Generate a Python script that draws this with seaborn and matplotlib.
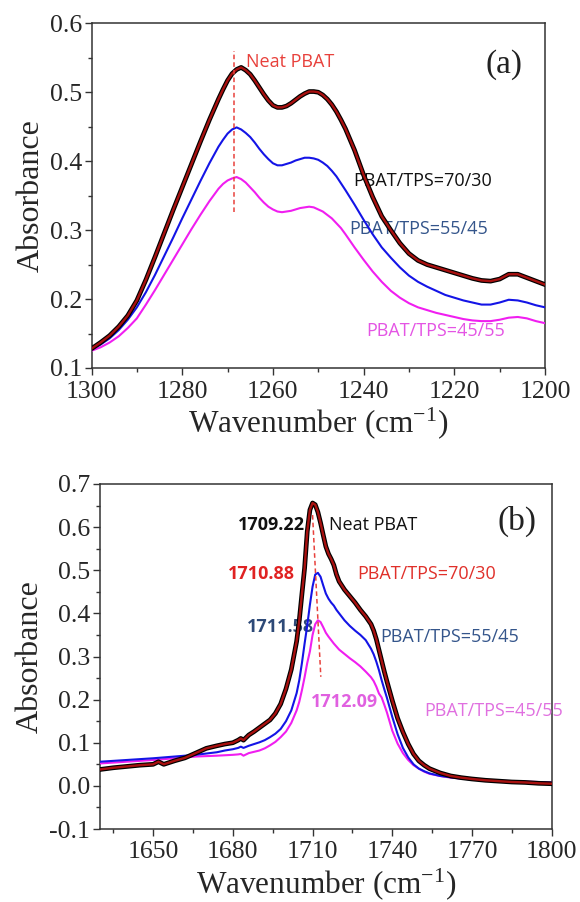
import numpy as np
import pandas as pd
import matplotlib
matplotlib.use("Agg")
import matplotlib.pyplot as plt
import matplotlib.patheffects as pe
from matplotlib.ticker import MultipleLocator, FormatStrFormatter
import seaborn as sns

# ---------------- Panel (a): 1300-1200 cm-1 region ----------------
wn_a = [1300, 1298, 1296, 1294, 1292, 1290, 1288, 1286, 1284, 1282, 1280, 1278, 1276,
        1275, 1274, 1273, 1272, 1271, 1270, 1269, 1268, 1267, 1266, 1265, 1264, 1263,
        1262, 1261, 1260, 1259, 1258, 1257, 1256, 1255, 1254, 1253, 1252, 1251, 1250,
        1249, 1248, 1247, 1246, 1245, 1244,
        1242, 1240, 1238, 1236, 1234, 1232, 1230, 1228, 1226, 1224, 1222,
        1220, 1218, 1216, 1214, 1212, 1210, 1208, 1206, 1204, 1202, 1200]
neat_a = [0.128, 0.137, 0.147, 0.160, 0.176, 0.198, 0.228, 0.261, 0.295, 0.329, 0.362, 0.395, 0.428,
          0.444, 0.460, 0.475, 0.490, 0.504, 0.517, 0.527, 0.533, 0.536, 0.532, 0.526, 0.517, 0.507,
          0.497, 0.488, 0.481, 0.478, 0.478, 0.480, 0.484, 0.489, 0.494, 0.498, 0.501, 0.501, 0.500,
          0.496, 0.490, 0.482, 0.472, 0.460, 0.447,
          0.416, 0.380, 0.348, 0.320, 0.300, 0.281, 0.266, 0.256, 0.250, 0.246, 0.242,
          0.238, 0.234, 0.230, 0.227, 0.226, 0.229, 0.236, 0.236, 0.231, 0.226, 0.221]
b7030_a = [0.127, 0.134, 0.143, 0.155, 0.170, 0.188, 0.210, 0.235, 0.262, 0.289, 0.317, 0.344, 0.371,
           0.384, 0.397, 0.409, 0.421, 0.431, 0.440, 0.446, 0.449, 0.446, 0.441, 0.435, 0.427, 0.418,
           0.410, 0.403, 0.397, 0.394, 0.394, 0.396, 0.398, 0.401, 0.403, 0.405, 0.405, 0.404, 0.402,
           0.398, 0.393, 0.386, 0.378, 0.368, 0.358,
           0.337, 0.315, 0.294, 0.275, 0.260, 0.246, 0.234, 0.225, 0.218, 0.212, 0.206,
           0.202, 0.198, 0.195, 0.192, 0.192, 0.195, 0.199, 0.198, 0.195, 0.191, 0.188]
b4555_a = [0.125, 0.130, 0.137, 0.146, 0.158, 0.172, 0.192, 0.213, 0.235, 0.257, 0.279, 0.301, 0.322,
           0.332, 0.342, 0.351, 0.360, 0.367, 0.372, 0.375, 0.377, 0.374, 0.369, 0.362, 0.355, 0.347,
           0.340, 0.334, 0.330, 0.327, 0.326, 0.327, 0.328, 0.330, 0.332, 0.333, 0.334, 0.333, 0.330,
           0.327, 0.322, 0.317, 0.310, 0.303, 0.294,
           0.275, 0.257, 0.240, 0.225, 0.212, 0.202, 0.194, 0.188, 0.184, 0.180, 0.177,
           0.174, 0.171, 0.169, 0.168, 0.168, 0.170, 0.173, 0.174, 0.172, 0.168, 0.165]

# ---------------- Panel (b): C=O region ----------------
wn_b = [1630, 1635, 1640, 1645, 1650, 1652, 1654, 1658, 1662, 1666,
        1670, 1674, 1677, 1680, 1682, 1683, 1684, 1686, 1688, 1690,
        1692, 1694, 1696, 1698, 1700, 1702, 1704, 1705, 1706, 1707,
        1708, 1709, 1710, 1711, 1712, 1713, 1714, 1715, 1716, 1717,
        1718, 1719, 1720, 1722, 1724, 1726, 1728, 1730, 1732, 1733,
        1734, 1735, 1736, 1737, 1738, 1740, 1742, 1744, 1746, 1748,
        1750, 1752, 1754, 1758, 1762, 1766, 1770, 1775, 1780, 1785,
        1790, 1795, 1800]
neat_b = [0.038, 0.042, 0.045, 0.048, 0.050, 0.056, 0.050, 0.058, 0.065, 0.076,
          0.087, 0.093, 0.097, 0.100, 0.106, 0.110, 0.106, 0.118, 0.126, 0.135,
          0.144, 0.153, 0.168, 0.190, 0.225, 0.270, 0.335, 0.384, 0.445, 0.505,
          0.590, 0.640, 0.656, 0.652, 0.635, 0.610, 0.582, 0.555, 0.538, 0.526,
          0.512, 0.490, 0.474, 0.455, 0.440, 0.425, 0.408, 0.393, 0.375, 0.360,
          0.340, 0.315, 0.290, 0.265, 0.242, 0.198, 0.157, 0.125, 0.097, 0.074,
          0.058, 0.048, 0.040, 0.030, 0.023, 0.019, 0.016, 0.013, 0.011, 0.009,
          0.008, 0.006, 0.005]
b7030_b = [0.056, 0.058, 0.060, 0.062, 0.064, 0.065, 0.066, 0.068, 0.070, 0.072,
           0.075, 0.078, 0.082, 0.085, 0.088, 0.091, 0.088, 0.093, 0.097, 0.101,
           0.106, 0.113, 0.121, 0.132, 0.150, 0.175, 0.215, 0.245, 0.285, 0.330,
           0.372, 0.420, 0.462, 0.490, 0.494, 0.485, 0.465, 0.446, 0.434, 0.425,
           0.418, 0.408, 0.400, 0.384, 0.371, 0.360, 0.350, 0.338, 0.318, 0.305,
           0.288, 0.268, 0.245, 0.224, 0.204, 0.160, 0.120, 0.088, 0.066, 0.050,
           0.040, 0.034, 0.029, 0.023, 0.020, 0.017, 0.015, 0.013, 0.011, 0.010,
           0.009, 0.008, 0.007]
b4555_b = [0.052, 0.054, 0.056, 0.058, 0.060, 0.061, 0.062, 0.064, 0.066, 0.068,
           0.069, 0.070, 0.071, 0.072, 0.073, 0.074, 0.070, 0.076, 0.079, 0.082,
           0.087, 0.094, 0.102, 0.113, 0.126, 0.146, 0.175, 0.195, 0.222, 0.252,
           0.285, 0.312, 0.350, 0.375, 0.384, 0.380, 0.368, 0.355, 0.346, 0.338,
           0.330, 0.323, 0.316, 0.306, 0.296, 0.287, 0.277, 0.265, 0.252, 0.243,
           0.230, 0.214, 0.205, 0.188, 0.170, 0.128, 0.098, 0.076, 0.060, 0.048,
           0.040, 0.033, 0.028, 0.023, 0.019, 0.017, 0.015, 0.013, 0.012, 0.011,
           0.010, 0.009, 0.008]

labels = ["Neat PBAT", "PBAT/TPS=70/30", "PBAT/TPS=55/45", "PBAT/TPS=45/55"]
peak_labels = ["1709.22", "1710.88", "1711.58", "1712.09"]

# ---------------- style ----------------
sns.set_theme(style="ticks")
plt.rcParams['font.family'] = ['Liberation Serif', 'DejaVu Serif']
plt.rcParams['mathtext.fontset'] = 'custom'
plt.rcParams['mathtext.rm'] = 'Liberation Serif'
plt.rcParams['mathtext.it'] = 'Liberation Serif:italic'
plt.rcParams['axes.unicode_minus'] = False

RED_CORE = '#A8100F'
BLUE = '#1414E6'
MAG = '#F01EF0'
DASH_RED = '#E8413C'
STEEL = '#34558B'
SANS = ['Open Sans', 'DejaVu Sans']
FS_ANN = 13

fig = plt.figure(figsize=(5.8, 9.02), dpi=100)
W, H = 580.0, 902.0
ax1 = fig.add_axes([91.5 / W, 1 - 368 / H, (545 - 91.5) / W, (368 - 23.3) / H])
ax2 = fig.add_axes([100 / W, 1 - 829 / H, (551.7 - 100) / W, (829 - 484) / H])

red_fx = [pe.Stroke(linewidth=3.4, foreground='black'), pe.Normal()]


def draw(ax, x, neat, s1, s2):
    df = pd.DataFrame({'x': x, 'neat': neat, 's1': s1, 's2': s2})
    sns.lineplot(data=df, x='x', y='s2', ax=ax, color=MAG, lw=1.5, estimator=None, zorder=3)
    sns.lineplot(data=df, x='x', y='s1', ax=ax, color=BLUE, lw=1.5, estimator=None, zorder=4)
    sns.lineplot(data=df, x='x', y='neat', ax=ax, color=RED_CORE, lw=1.7, estimator=None,
                 zorder=5, path_effects=red_fx)


draw(ax1, wn_a, neat_a, b7030_a, b4555_a)
draw(ax2, wn_b, neat_b, b7030_b, b4555_b)

# dashed peak markers
ax1.plot([1268.5, 1268.5], [0.326, 0.560], ls=(0, (3, 2)), color=DASH_RED, lw=1.1, zorder=6)
ax2.plot([1710.0, 1713.1], [0.628, 0.253], ls=(0, (3, 2)), color=DASH_RED, lw=1.1, zorder=6)

# axes formatting
for ax in (ax1, ax2):
    for sp in ax.spines.values():
        sp.set_color('#333333')
        sp.set_linewidth(1.1)
    ax.tick_params(axis='both', which='major', direction='out', length=5, width=1.0,
                   color='#333333', labelsize=18.5, pad=2, top=False, right=False)
    ax.tick_params(axis='x', which='major', pad=4)
    ax.tick_params(axis='both', which='minor', direction='out', length=2.6, width=1.0,
                   color='#333333', top=False, right=False)
    ax.yaxis.set_major_locator(MultipleLocator(0.1))
    ax.yaxis.set_minor_locator(MultipleLocator(0.05))
    ax.yaxis.set_major_formatter(FormatStrFormatter('%.1f'))
    ax.set_ylabel('Absorbance', fontsize=23, labelpad=3)
    ax.set_xlabel('Wavenumber (cm$^{-1}$)', fontsize=22.5, labelpad=2)

ax1.set_xlim(1300, 1200)
ax1.set_ylim(0.1, 0.6)
ax1.xaxis.set_major_locator(MultipleLocator(20))
ax1.xaxis.set_minor_locator(MultipleLocator(10))

ax2.set_xlim(1630, 1800)
ax2.set_ylim(-0.1, 0.7)
ax2.xaxis.set_major_locator(MultipleLocator(30))
ax2.xaxis.set_minor_locator(MultipleLocator(15))

# panel (a) annotations
ax1.text(1266.0, 0.544, labels[0], color=DASH_RED, fontsize=FS_ANN, family=SANS, ha='left', va='center')
ax1.text(1242.3, 0.371, labels[1], color='#111111', fontsize=FS_ANN, family=SANS, ha='left', va='center')
ax1.text(1243.1, 0.301, labels[2], color=STEEL, fontsize=FS_ANN, family=SANS, ha='left', va='center')
ax1.text(1239.4, 0.153, labels[3], color='#E455E4', fontsize=FS_ANN, family=SANS, ha='left', va='center')
ax1.text(1209.0, 0.540, '(a)', fontsize=24, ha='center', va='center', color='#222222')

# panel (b) annotations
ax2.text(1707.0, 0.605, peak_labels[0], color='#111111', fontsize=FS_ANN, family=SANS,
         fontweight='bold', ha='right', va='center')
ax2.text(1716.2, 0.605, labels[0], color='#111111', fontsize=FS_ANN, family=SANS, ha='left', va='center')
ax2.text(1703.4, 0.491, peak_labels[1], color='#E02222', fontsize=FS_ANN, family=SANS,
         fontweight='bold', ha='right', va='center')
ax2.text(1726.9, 0.491, labels[1], color='#E0302A', fontsize=FS_ANN, family=SANS, ha='left', va='center')
ax2.text(1710.6, 0.369, peak_labels[2], color='#2E4A78', fontsize=FS_ANN, family=SANS,
         fontweight='bold', ha='right', va='center')
ax2.text(1735.6, 0.346, labels[2], color=STEEL, fontsize=FS_ANN, family=SANS, ha='left', va='center')
ax2.text(1709.4, 0.195, peak_labels[3], color='#E060E0', fontsize=FS_ANN, family=SANS,
         fontweight='bold', ha='left', va='center')
ax2.text(1751.9, 0.174, labels[3], color='#E070E0', fontsize=FS_ANN, family=SANS, ha='left', va='center')
ax2.text(1787.0, 0.614, '(b)', fontsize=24, ha='center', va='center', color='#222222')

fig.savefig('out.png', dpi=100)
